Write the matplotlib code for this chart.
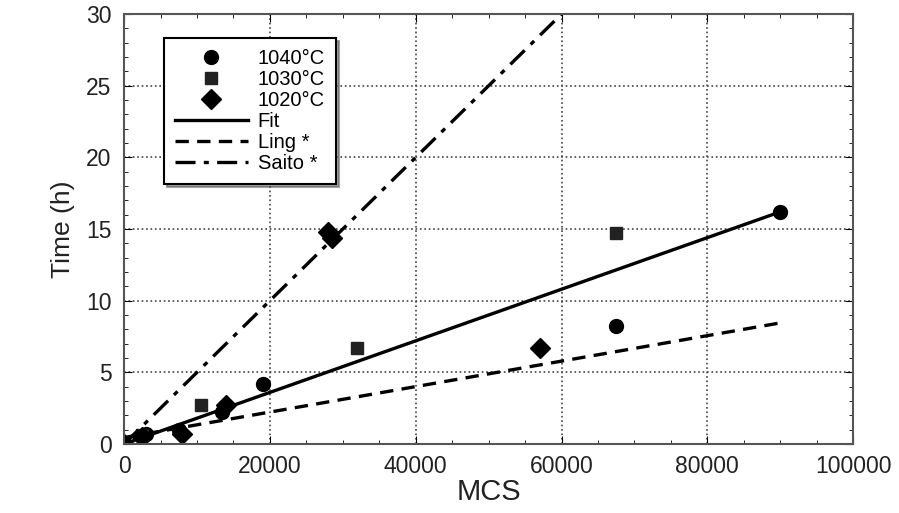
import numpy as np
import matplotlib.pyplot as plt
from matplotlib.ticker import MultipleLocator

plt.rcParams['font.family'] = ['Liberation Sans', 'DejaVu Sans']

# 1040°C, 1030°C, 1020°C olcum noktalari
mcs_1040 = [0, 3000, 7500, 13500, 19000, 67500, 90000]
t_1040 = [0, 0.7, 1.0, 2.2, 4.2, 8.2, 16.2]
mcs_1030 = [0, 2500, 10500, 32000, 67500]
t_1030 = [0, 0.6, 2.7, 6.7, 14.7]
mcs_1020 = [0, 2500, 8000, 14000, 28000, 28500, 57000]
t_1020 = [0, 0.5, 0.7, 2.7, 14.8, 14.4, 6.7]

# dogrular: (baslangic, bitis) noktalari
fit_x = [0, 90000]
fit_y = [0, 16.2]
ling_x = [0, 90000]
ling_y = [0.45, 8.45]
saito_x = [0, 60000]
saito_y = [0, 30]

fig = plt.figure(figsize=(8.99, 5.13), dpi=100)
ax = fig.add_axes([0.138, 0.1345, 0.811, 0.838])

ax.plot(mcs_1040, t_1040, 'o', color='black', ms=10, label='1040°C')
ax.plot(mcs_1030, t_1030, 's', color='#222222', ms=9, label='1030°C')
ax.plot(mcs_1020, t_1020, 'D', color='black', ms=10, label='1020°C')
ax.plot(fit_x, fit_y, '-', color='black', lw=2.4, label='Fit')
ax.plot(ling_x, ling_y, '--', color='black', lw=2.4, dashes=(4, 2.5), label='Ling *')
ax.plot(saito_x, saito_y, color='black', lw=2.4, dashes=(6, 2.5, 1.5, 2.5), label='Saito *')

ax.set_xlim(0, 100000)
ax.set_ylim(0, 30)
ax.xaxis.set_major_locator(MultipleLocator(20000))
ax.xaxis.set_minor_locator(MultipleLocator(5000))
ax.yaxis.set_major_locator(MultipleLocator(5))
ax.yaxis.set_minor_locator(MultipleLocator(1))
ax.tick_params(which='both', direction='in', top=True, right=True, labelsize=16.5,
               labelcolor='#222222')
ax.tick_params(axis='x', pad=8)
ax.tick_params(axis='y', pad=9)
ax.tick_params(which='major', length=6)
ax.tick_params(which='minor', length=3)
ax.grid(True, which='major', linestyle=':', color='#444444', lw=1.2)
for s in ax.spines.values():
    s.set_linewidth(1.5)
    s.set_color('#555555')

ax.set_xlabel('MCS', fontsize=21, labelpad=0, color='#222222')
ax.set_ylabel('Time (h)', fontsize=19, labelpad=8, color='#222222')

leg = ax.legend(loc='upper left', bbox_to_anchor=(0.055, 0.945), fontsize=14.5,
                frameon=True, fancybox=False, shadow=True, edgecolor='black',
                handlelength=3.6, handletextpad=0.5, labelspacing=0.1,
                borderpad=0.55, borderaxespad=0)
leg.get_frame().set_linewidth(1.5)
leg.get_frame().set_alpha(1)

fig.savefig('out.png', dpi=100)
